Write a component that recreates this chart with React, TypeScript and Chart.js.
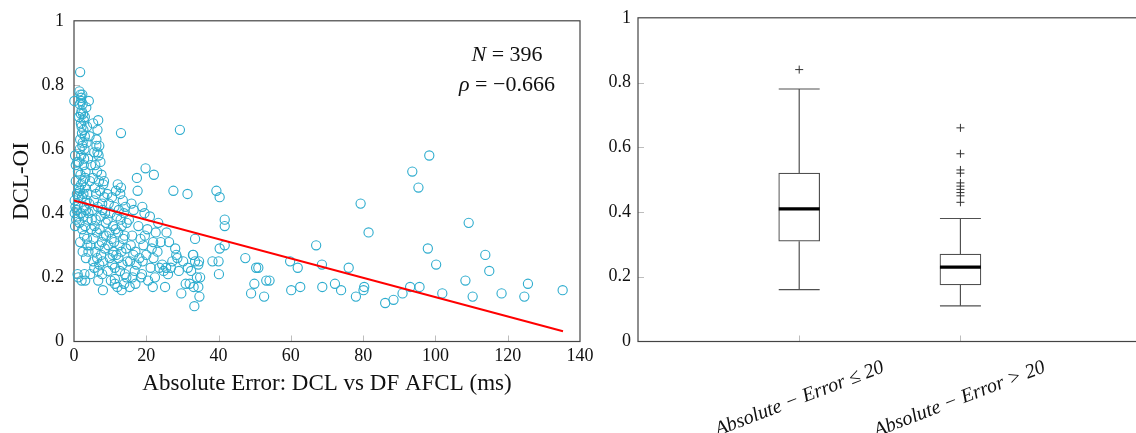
import React, { useEffect, useRef } from 'react';
import { Chart, registerables } from 'chart.js';

Chart.register(...registerables);

const FONT = '"Liberation Serif", "Times New Roman", serif';
const TEXT = '#111111';

// ---------- Scatter: [absolute error (ms), DCL-OI] ----------
const measurements: [number, number][] = [
  // 0 – 5 ms
  [0.1, 0.75], [0.3, 0.58], [0.5, 0.55], [0.2, 0.44], [0.4, 0.42], [0.2, 0.40], [0.6, 0.38], [0.3, 0.36], [0.8, 0.46], [0.5, 0.50],
  [1.0, 0.21], [1.2, 0.20], [1.7, 0.84], [1.5, 0.78], [1.8, 0.77], [2.0, 0.76], [2.3, 0.77], [1.6, 0.74], [2.1, 0.72], [1.4, 0.70],
  [2.5, 0.71], [1.9, 0.68], [2.6, 0.66], [2.2, 0.65], [1.7, 0.63], [2.4, 0.62], [2.9, 0.60], [2.0, 0.58], [1.3, 0.56], [2.7, 0.55],
  [3.2, 0.53], [1.8, 0.52], [2.5, 0.50], [3.0, 0.48], [1.6, 0.47], [2.2, 0.45], [3.5, 0.44], [1.1, 0.43], [2.8, 0.42], [3.3, 0.41],
  [1.9, 0.40], [2.6, 0.39], [3.8, 0.38], [1.5, 0.37], [3.1, 0.36], [2.3, 0.35], [4.0, 0.40], [4.2, 0.43], [3.7, 0.46], [4.4, 0.50],
  [4.1, 0.75], [3.4, 0.73], [3.0, 0.70], [3.6, 0.67], [4.3, 0.64], [3.9, 0.57], [3.3, 0.26], [2.9, 0.21], [3.1, 0.19], [4.5, 0.21],
  [2.1, 0.19], [4.6, 0.30], [3.6, 0.32], [4.8, 0.35], [2.4, 0.28], [4.9, 0.38], [1.2, 0.45], [0.7, 0.41], [1.0, 0.39], [4.7, 0.55],
  [2.0, 0.75], [2.4, 0.74], [1.9, 0.71], [2.7, 0.69], [2.1, 0.67], [3.0, 0.64], [2.3, 0.61], [1.6, 0.60], [2.8, 0.57], [3.5, 0.62],
  [3.1, 0.51], [2.0, 0.49], [1.4, 0.48], [2.6, 0.46], [0.9, 0.56], [1.1, 0.53], [3.7, 0.30], [4.0, 0.28], [2.8, 0.33], [1.7, 0.31],
  // 5 – 9 ms
  [5.3, 0.68], [6.7, 0.69], [6.5, 0.66], [6.2, 0.63], [6.2, 0.61], [7.0, 0.61], [5.6, 0.59], [6.8, 0.58], [7.3, 0.56], [5.9, 0.55],
  [6.4, 0.53], [7.6, 0.52], [5.2, 0.51], [6.9, 0.50], [8.1, 0.49], [5.8, 0.48], [7.2, 0.47], [6.1, 0.46], [8.4, 0.45], [5.5, 0.44],
  [7.8, 0.43], [6.6, 0.42], [5.1, 0.41], [8.6, 0.40], [7.4, 0.39], [6.0, 0.38], [8.8, 0.37], [5.7, 0.36], [7.1, 0.35], [6.3, 0.34],
  [8.2, 0.33], [5.4, 0.32], [7.7, 0.31], [6.9, 0.30], [8.5, 0.29], [5.9, 0.28], [7.5, 0.27], [6.4, 0.26], [8.0, 0.25], [7.0, 0.24],
  [5.6, 0.23], [6.7, 0.22], [8.0, 0.16], [6.7, 0.19], [7.8, 0.21], [5.3, 0.25], [8.9, 0.33], [7.9, 0.41], [6.5, 0.59], [8.3, 0.50],
  // 9 – 15 ms
  [13.0, 0.65], [12.1, 0.49], [11.6, 0.47], [12.8, 0.46], [10.5, 0.45], [13.5, 0.44], [9.6, 0.43], [11.2, 0.42], [14.2, 0.42], [12.4, 0.41],
  [10.1, 0.40], [13.8, 0.40], [11.9, 0.39], [9.3, 0.38], [12.9, 0.38], [14.6, 0.37], [10.8, 0.36], [13.2, 0.36], [11.5, 0.35], [9.8, 0.34],
  [12.2, 0.34], [14.0, 0.33], [10.4, 0.32], [13.6, 0.32], [11.1, 0.31], [12.6, 0.30], [9.5, 0.30], [14.4, 0.29], [10.9, 0.28], [13.1, 0.28],
  [11.7, 0.27], [12.3, 0.26], [9.9, 0.26], [14.8, 0.25], [10.6, 0.24], [13.4, 0.24], [11.3, 0.23], [12.7, 0.22], [9.4, 0.22], [14.1, 0.21],
  [11.3, 0.195], [11.3, 0.18], [13.9, 0.18], [13.2, 0.16], [10.2, 0.19], [12.0, 0.17], [14.5, 0.20], [9.2, 0.46], [13.0, 0.48], [10.7, 0.27],
  // 15 – 25 ms
  [17.4, 0.51], [19.8, 0.54], [22.1, 0.52], [17.6, 0.47], [15.9, 0.43], [18.9, 0.42], [21.0, 0.39], [23.3, 0.37], [16.5, 0.41], [19.5, 0.40],
  [15.2, 0.38], [17.8, 0.36], [20.3, 0.35], [22.6, 0.34], [16.1, 0.33], [18.4, 0.32], [24.0, 0.31], [15.7, 0.30], [19.2, 0.30], [21.5, 0.29],
  [17.0, 0.28], [23.1, 0.28], [16.4, 0.27], [20.0, 0.27], [18.1, 0.26], [22.0, 0.26], [15.5, 0.25], [19.0, 0.25], [24.4, 0.24], [17.3, 0.24],
  [21.2, 0.23], [16.8, 0.22], [23.6, 0.23], [18.5, 0.20], [20.5, 0.19], [21.8, 0.17], [18.8, 0.21], [22.4, 0.20], [16.2, 0.20], [24.8, 0.22],
  [19.6, 0.33], [21.9, 0.31], [17.0, 0.18], [15.4, 0.17],
  // 25 – 35 ms
  [27.5, 0.47], [31.4, 0.46], [25.6, 0.34], [29.3, 0.66], [33.5, 0.32], [25.2, 0.17], [29.7, 0.15], [30.9, 0.18], [28.0, 0.29], [26.3, 0.31],
  [28.6, 0.26], [27.2, 0.25], [30.2, 0.25], [31.5, 0.23], [26.8, 0.23], [29.0, 0.22], [32.4, 0.22], [33.0, 0.27], [34.6, 0.25], [32.0, 0.18],
  [33.1, 0.17], [34.4, 0.17], [33.3, 0.11], [34.7, 0.14], [34.0, 0.20], [34.9, 0.20], [33.5, 0.25], [34.4, 0.24], [32.9, 0.27], [25.5, 0.23],
  [28.3, 0.27], [26.0, 0.21],
  // 35 – 60 ms
  [39.4, 0.47], [40.3, 0.45], [41.7, 0.38], [41.7, 0.36], [41.7, 0.30], [40.3, 0.29], [38.3, 0.25], [40.0, 0.25], [40.1, 0.21], [47.4, 0.26],
  [50.4, 0.23], [51.0, 0.23], [53.2, 0.19], [54.1, 0.19], [49.9, 0.18], [49.0, 0.15], [52.6, 0.14],
  // > 60 ms
  [95.3, 0.48], [79.3, 0.43], [109.2, 0.37], [81.5, 0.34], [67.0, 0.30], [97.9, 0.29], [113.8, 0.27], [59.8, 0.25], [68.6, 0.24], [100.2, 0.24],
  [61.9, 0.23], [76.0, 0.23], [114.9, 0.22], [108.3, 0.19], [72.2, 0.18], [125.6, 0.18], [62.6, 0.17], [68.7, 0.17], [80.3, 0.17], [93.0, 0.17],
  [95.6, 0.17], [60.1, 0.16], [73.9, 0.16], [80.1, 0.16], [135.2, 0.16], [101.9, 0.15], [118.3, 0.15], [90.9, 0.15], [78.0, 0.14], [110.3, 0.14],
  [124.6, 0.14], [88.4, 0.13], [86.1, 0.12], [98.3, 0.58], [93.6, 0.53],
];

// Regression line endpoints
const fitX = [0, 135.3];
const fitY = [0.44, 0.032];

const sampleSize = 396;
const rhoLabel = '−0.666';

// ---------- Box plot ----------
const boxLabels = ['Absolute − Error ≤ 20', 'Absolute − Error > 20'];
const boxPositions = [1, 2];
const boxLowerWhisker = [0.16, 0.11];
const boxQ1 = [0.31, 0.175];
const boxMedian = [0.41, 0.23];
const boxQ3 = [0.52, 0.27];
const boxUpperWhisker = [0.78, 0.38];
const boxOutliers = [
  [0.84],
  [0.66, 0.58, 0.53, 0.52, 0.49, 0.48, 0.47, 0.46, 0.45, 0.43],
];
const BOX_HALF = 0.127; // half box width in x-units

const frameAndTicks = {
  id: 'frameAndTicks',
  beforeDatasetsDraw(chart: any) {
    const { ctx, chartArea, scales } = chart;
    ctx.save();
    ctx.strokeStyle = '#bdbdbd';
    ctx.lineWidth = 1;
    const len = 6;
    scales.x.ticks.forEach((t: any) => {
      const px = Math.round(scales.x.getPixelForValue(t.value)) + 0.5;
      if (px <= chartArea.left + 1 || px >= chartArea.right - 1) return;
      ctx.beginPath();
      ctx.moveTo(px, chartArea.bottom);
      ctx.lineTo(px, chartArea.bottom - len);
      ctx.stroke();
    });
    scales.y.ticks.forEach((t: any) => {
      const py = Math.round(scales.y.getPixelForValue(t.value)) + 0.5;
      if (py <= chartArea.top + 1 || py >= chartArea.bottom - 1) return;
      ctx.beginPath();
      ctx.moveTo(chartArea.left, py);
      ctx.lineTo(chartArea.left + len, py);
      ctx.stroke();
    });
    ctx.strokeStyle = '#444444';
    ctx.lineWidth = 1.2;
    ctx.strokeRect(chartArea.left, chartArea.top, chartArea.right - chartArea.left, chartArea.bottom - chartArea.top);
    ctx.restore();
  },
};

function drawMixed(ctx: CanvasRenderingContext2D, parts: [string, boolean][], cx: number, cy: number, size: number) {
  const fonts = parts.map(([, it]) => `${it ? 'italic ' : ''}${size}px ${FONT}`);
  let total = 0;
  const widths = parts.map(([s], i) => {
    ctx.font = fonts[i];
    const w = ctx.measureText(s).width;
    total += w;
    return w;
  });
  let x = cx - total / 2;
  ctx.textBaseline = 'middle';
  ctx.textAlign = 'left';
  ctx.fillStyle = TEXT;
  parts.forEach(([s], i) => {
    ctx.font = fonts[i];
    ctx.fillText(s, x, cy);
    x += widths[i];
  });
}

const annotation = {
  id: 'annotation',
  afterDraw(chart: any) {
    const { ctx, chartArea } = chart;
    ctx.save();
    const cx = chartArea.right - 73;
    drawMixed(ctx, [['N', true], [` = ${sampleSize}`, false]], cx, chartArea.top + 34, 22);
    drawMixed(ctx, [['ρ', true], [` = ${rhoLabel}`, false]], cx, chartArea.top + 64, 22);
    ctx.restore();
  },
};

const tickFont = { family: FONT, size: 18 };
const fmtY = (v: any) => String(Math.round(Number(v) * 10) / 10);

function ScatterChart() {
  const ref = useRef<HTMLCanvasElement>(null);
  useEffect(() => {
    const chart = new Chart(ref.current!, {
      type: 'scatter',
      data: {
        datasets: [
          {
            type: 'line',
            data: fitX.map((x, i) => ({ x, y: fitY[i] })),
            borderColor: '#ff0000',
            borderWidth: 2,
            pointRadius: 0,
            order: 0,
          } as any,
          {
            data: measurements.map(([x, y]) => ({ x, y })),
            pointStyle: 'circle',
            pointRadius: 4.6,
            pointBorderWidth: 1.1,
            borderColor: 'rgb(45,172,206)',
            backgroundColor: 'rgba(0,0,0,0)',
            clip: false,
            order: 1,
          } as any,
        ],
      },
      options: {
        animation: false,
        responsive: false,
        events: [],
        layout: { padding: { top: 16, right: 20, left: 0, bottom: 0 } },
        plugins: { legend: { display: false }, tooltip: { enabled: false } },
        scales: {
          x: {
            type: 'linear',
            min: 0,
            max: 140,
            ticks: { stepSize: 20, font: tickFont, color: TEXT, padding: 4, maxRotation: 0 },
            grid: { display: false, drawTicks: false },
            border: { display: false },
            title: {
              display: true,
              text: 'Absolute Error: DCL vs DF AFCL (ms)',
              font: { family: FONT, size: 23 },
              color: TEXT,
              padding: { top: 0, bottom: 35 },
            },
            afterFit(s: any) { s.height = 91.5; },
          },
          y: {
            min: 0,
            max: 1,
            ticks: { stepSize: 0.2, font: tickFont, color: TEXT, padding: 10, callback: fmtY },
            grid: { display: false, drawTicks: false },
            border: { display: false },
            title: {
              display: true,
              text: 'DCL-OI',
              font: { family: FONT, size: 23 },
              color: TEXT,
              padding: { top: 8, bottom: 0 },
            },
            afterFit(s: any) { s.width = 74; },
          },
        },
      } as any,
      plugins: [frameAndTicks, annotation],
    });
    return () => chart.destroy();
  }, []);
  return <canvas ref={ref} width={600} height={433} style={{ position: 'absolute', left: 0, top: 0, width: 600, height: 433 }} />;
}

function BoxChart() {
  const ref = useRef<HTMLCanvasElement>(null);
  useEffect(() => {
    const lineColor = '#505050';
    const seg = (pts: { x: number; y: number }[], color: string, width: number) => ({
      type: 'line',
      data: pts,
      borderColor: color,
      borderWidth: width,
      pointRadius: 0,
      clip: false,
    });
    const datasets: any[] = [];
    boxPositions.forEach((p, i) => {
      datasets.push(seg([{ x: p, y: boxQ3[i] }, { x: p, y: boxUpperWhisker[i] }], lineColor, 1.2));
      datasets.push(seg([{ x: p, y: boxLowerWhisker[i] }, { x: p, y: boxQ1[i] }], lineColor, 1.2));
      datasets.push(seg([{ x: p - BOX_HALF, y: boxUpperWhisker[i] }, { x: p + BOX_HALF, y: boxUpperWhisker[i] }], lineColor, 1.2));
      datasets.push(seg([{ x: p - BOX_HALF, y: boxLowerWhisker[i] }, { x: p + BOX_HALF, y: boxLowerWhisker[i] }], lineColor, 1.2));
    });
    datasets.push({
      type: 'bar',
      data: boxPositions.map((p, i) => ({ x: p, y: [boxQ1[i], boxQ3[i]] })),
      backgroundColor: '#ffffff',
      borderColor: lineColor,
      borderWidth: 1.2,
      borderSkipped: false,
      barThickness: 41,
      grouped: false,
    });
    boxPositions.forEach((p, i) => {
      datasets.push(seg([{ x: p - BOX_HALF, y: boxMedian[i] }, { x: p + BOX_HALF, y: boxMedian[i] }], '#000000', 3.2));
    });
    datasets.push({
      type: 'scatter',
      data: boxPositions.flatMap((p, i) => boxOutliers[i].map((y) => ({ x: p, y }))),
      pointStyle: 'cross',
      pointRadius: 4,
      pointBorderWidth: 1,
      borderColor: '#333333',
      backgroundColor: '#333333',
    });
    datasets.forEach((d, i) => (d.order = datasets.length - i));

    const chart = new Chart(ref.current!, {
      type: 'scatter',
      data: { datasets },
      options: {
        animation: false,
        responsive: false,
        events: [],
        layout: { padding: { top: 16, right: 10, left: 0, bottom: 0 } },
        plugins: { legend: { display: false }, tooltip: { enabled: false } },
        scales: {
          x: {
            type: 'linear',
            min: 0,
            max: 3.3,
            offset: false,
            afterBuildTicks(s: any) { s.ticks = boxPositions.map((v) => ({ value: v })); },
            ticks: {
              font: { family: FONT, size: 20, style: 'italic' },
              color: TEXT,
              minRotation: 21,
              maxRotation: 21,
              autoSkip: false,
              padding: 14,
              labelOffset: 84,
              callback: (v: any) => {
                const idx = boxPositions.indexOf(Number(v));
                return idx >= 0 ? boxLabels[idx] : '';
              },
            },
            grid: { display: false, drawTicks: false, offset: false },
            border: { display: false },
            afterFit(s: any) { s.height = 91.5; },
          },
          y: {
            min: 0,
            max: 1,
            ticks: { stepSize: 0.2, font: tickFont, color: TEXT, padding: 7, callback: fmtY },
            grid: { display: false, drawTicks: false },
            border: { display: false },
            afterFit(s: any) { s.width = 48; },
          },
        },
      } as any,
      plugins: [frameAndTicks],
    });
    return () => chart.destroy();
  }, []);
  return <canvas ref={ref} width={590} height={433} style={{ position: 'absolute', left: 590, top: 0, width: 590, height: 433 }} />;
}

export default function App() {
  return (
    <div style={{ position: 'absolute', left: 0, top: 0, width: 1136, height: 433, overflow: 'hidden', background: '#ffffff' }}>
      <ScatterChart />
      <BoxChart />
    </div>
  );
}
